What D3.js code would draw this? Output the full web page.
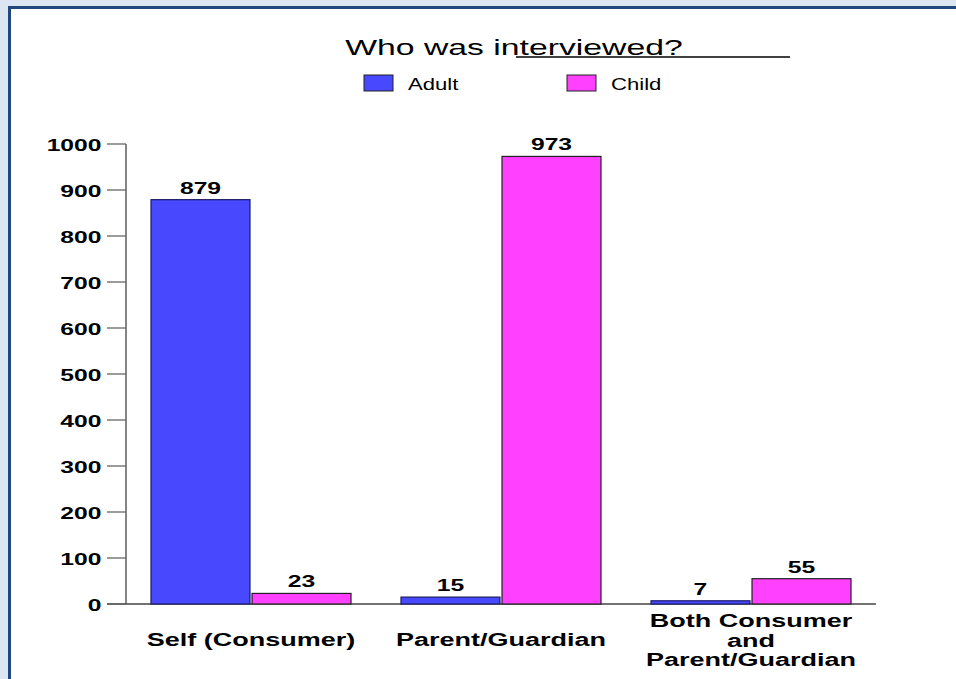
<!DOCTYPE html>
<html>
<head>
<meta charset="utf-8">
<script src="https://cdn.jsdelivr.net/npm/d3@7"></script>
<style>
  body { margin: 0; background: #dce6f2; }
  svg { display: block; }
  text { font-family: "Liberation Sans", Arial, sans-serif; }
</style>
</head>
<body>
<svg id="chart" width="956" height="679"></svg>
<script>
// data
const categories = [["Self (Consumer)"], ["Parent/Guardian"], ["Both Consumer", "and", "Parent/Guardian"]];
const seriesNames = ["Adult", "Child"];
const adultValues = [879, 15, 7];
const childValues = [23, 973, 55];
const yTicks = [0, 100, 200, 300, 400, 500, 600, 700, 800, 900, 1000];
const colors = ["#4848ff", "#ff40ff"];

const svg = d3.select("#chart");

// the original text is drawn wide, so stretch glyphs sideways
function stretch(sel, k) {
  sel.each(function() {
    const len = this.getComputedTextLength();
    d3.select(this).attr("textLength", len * k).attr("lengthAdjust", "spacingAndGlyphs");
  });
}

// frame
svg.append("rect").attr("x", 8).attr("y", 6).attr("width", 960).attr("height", 700).attr("fill", "#1f497d");
svg.append("rect").attr("x", 11).attr("y", 9).attr("width", 960).attr("height", 700).attr("fill", "#fff");

const plotLeft = 126, plotRight = 876, plotTop = 144, plotBottom = 604;

const x0 = d3.scaleBand().domain(d3.range(categories.length)).range([plotLeft, plotRight]);
const x1 = d3.scaleBand().domain(seriesNames).range([25, 225]).paddingInner(0.02);
const y = d3.scaleLinear().domain([0, 1000]).range([plotBottom, plotTop]);

// y axis
const g = svg.append("g");
g.append("line").attr("x1", plotLeft).attr("x2", plotLeft).attr("y1", plotTop).attr("y2", plotBottom).attr("stroke", "#444").attr("stroke-width", 1.3);
g.append("line").attr("x1", 107).attr("x2", plotRight).attr("y1", plotBottom).attr("y2", plotBottom).attr("stroke", "#444").attr("stroke-width", 1.3);
g.selectAll(".tick").data(yTicks).enter().append("line")
  .attr("x1", 107).attr("x2", plotLeft).attr("y1", d => y(d)).attr("y2", d => y(d))
  .attr("stroke", "#666").attr("stroke-width", 1.3);
const tickLabels = g.selectAll(".tl").data(yTicks).enter().append("text")
  .attr("x", 101.5).attr("y", d => y(d) + 6.5)
  .attr("text-anchor", "end").attr("font-size", 17).attr("font-weight", "bold")
  .text(d => d);
stretch(tickLabels, 1.45);

// bars
const rows = categories.map((c, i) => [
  { s: "Adult", v: adultValues[i], i: i },
  { s: "Child", v: childValues[i], i: i }
]);
const grp = svg.selectAll(".grp").data(rows).enter().append("g")
  .attr("transform", (d, i) => `translate(${x0(i)},0)`);
grp.selectAll("rect").data(d => d).enter().append("rect")
  .attr("x", d => x1(d.s)).attr("width", x1.bandwidth())
  .attr("y", d => y(d.v)).attr("height", d => plotBottom - y(d.v))
  .attr("fill", (d, j) => colors[j])
  .attr("stroke", (d, j) => j === 0 ? "#1a1a66" : "#222").attr("stroke-width", 1.2);
const valLabels = grp.selectAll(".val").data(d => d).enter().append("text")
  .attr("x", d => x1(d.s) + x1.bandwidth() / 2).attr("y", d => y(d.v) - 6)
  .attr("text-anchor", "middle").attr("font-size", 17).attr("font-weight", "bold")
  .text(d => d.v);
stretch(valLabels, 1.45);

// category labels
categories.forEach((lines, i) => {
  const cx = x0(i) + x0.bandwidth() / 2;
  const y0 = lines.length === 1 ? 646 : 627;
  lines.forEach((t, k) => {
    const tx = svg.append("text").attr("x", cx).attr("y", y0 + k * 19.5)
      .attr("text-anchor", "middle").attr("font-size", 18).attr("font-weight", "bold")
      .text(t);
    stretch(tx, 1.5);
  });
});

// title
const title = svg.append("text").attr("x", 514).attr("y", 54.5).attr("text-anchor", "middle")
  .attr("font-size", 22.5).text("Who was interviewed?");
stretch(title, 1.5);
svg.append("line").attr("x1", 516).attr("x2", 790).attr("y1", 57).attr("y2", 57)
  .attr("stroke", "#000").attr("stroke-width", 1.4);

// legend
const legX = [364, 567];
seriesNames.forEach((n, j) => {
  svg.append("rect").attr("x", legX[j]).attr("y", 75).attr("width", 29).attr("height", 16)
    .attr("fill", colors[j]).attr("stroke", "#222").attr("stroke-width", 1);
  const lt = svg.append("text").attr("x", legX[j] + 44).attr("y", 90).attr("font-size", 17).text(n);
  stretch(lt, 1.3);
});
</script>
</body>
</html>
